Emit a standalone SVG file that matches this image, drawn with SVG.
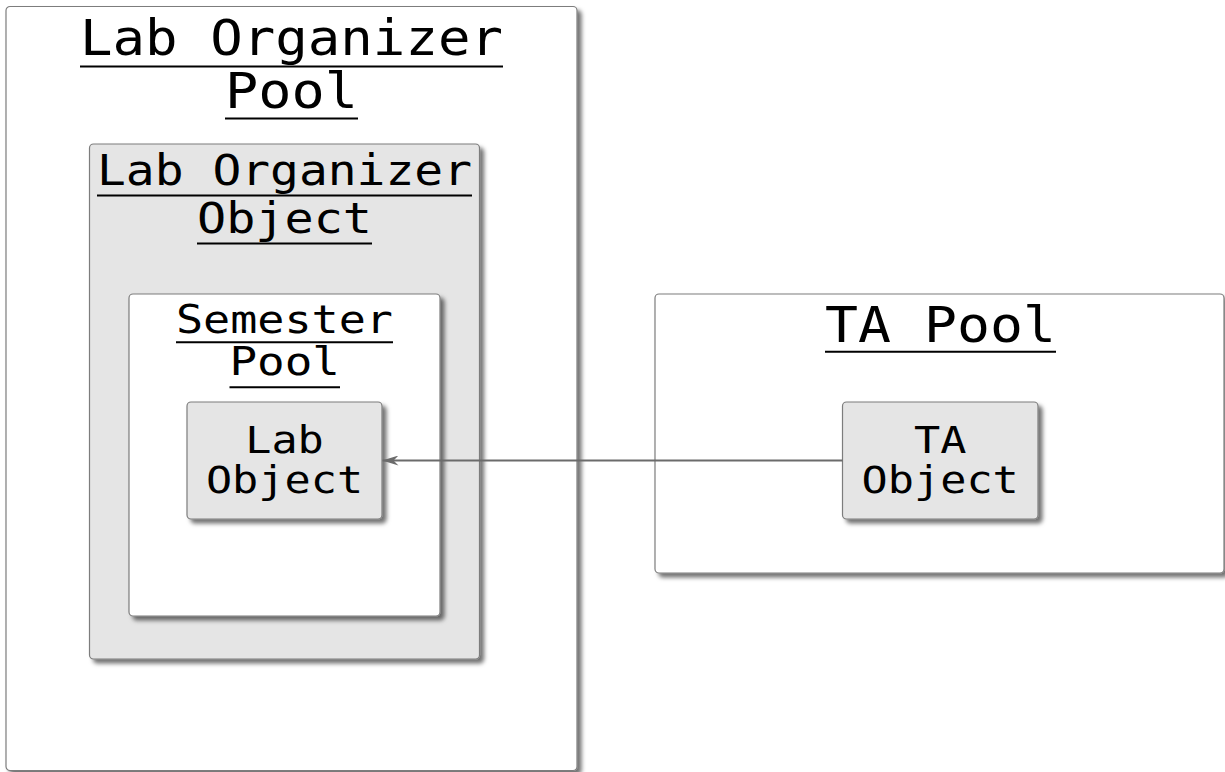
<svg xmlns="http://www.w3.org/2000/svg" width="1225" height="772" viewBox="0 0 1225 772">
  <style>
    .box { stroke: #7d7d7d; stroke-width: 1.2; filter: url(#shadow); }
    .pool { fill: #FFFFFF; }
    .obj { fill: #E5E5E5; }
    .label { font-family: "DejaVu Sans Mono", "Liberation Mono", monospace; fill: #000000; }
    .t50 { font-size: 49px; }
    .t44 { font-size: 43px; }
    .t39 { font-size: 39px; }
    .t36 { font-size: 37px; }
    .ul { stroke: #000000; stroke-width: 2; }
    .edge { stroke: #6b6b6b; stroke-width: 2; fill: none; }
  </style>
  <defs>
    <filter id="shadow" x="-5%" y="-5%" width="115%" height="115%">
      <feGaussianBlur in="SourceAlpha" stdDeviation="2" result="blur"/>
      <feColorMatrix in="blur" type="matrix" values="0 0 0 0 0  0 0 0 0 0  0 0 0 0 0  0 0 0 0.55 0" result="shade"/>
      <feOffset in="shade" dx="4" dy="4" result="moved"/>
      <feMerge>
        <feMergeNode in="moved"/>
        <feMergeNode in="SourceGraphic"/>
      </feMerge>
    </filter>
    <marker id="arrowhead" viewBox="0 0 16 10" refX="16" refY="5" markerWidth="16" markerHeight="10" markerUnits="userSpaceOnUse" orient="auto">
      <path d="M16,5 L0,0 L5,5 L0,10 Z" fill="#6b6b6b"/>
    </marker>
  </defs>

  <!-- Lab Organizer Pool -->
  <g id="lab-organizer-pool">
    <rect class="box pool" x="6" y="6.5" width="571" height="764" rx="4"/>
    <text class="label t50">
      <tspan x="80" y="55" textLength="423" lengthAdjust="spacingAndGlyphs">Lab Organizer</tspan>
      <tspan x="225" y="108" textLength="133" lengthAdjust="spacingAndGlyphs">Pool</tspan>
    </text>
    <line class="ul" x1="80" y1="66.5" x2="503" y2="66.5"/>
    <line class="ul" x1="225" y1="118.5" x2="358" y2="118.5"/>
  </g>

  <!-- Lab Organizer Object -->
  <g id="lab-organizer-object">
    <rect class="box obj" x="89.5" y="144" width="390" height="515" rx="4"/>
    <text class="label t44">
      <tspan x="97" y="185" textLength="375" lengthAdjust="spacingAndGlyphs">Lab Organizer</tspan>
      <tspan x="197" y="232.5" textLength="175" lengthAdjust="spacingAndGlyphs">Object</tspan>
    </text>
    <line class="ul" x1="97" y1="195.5" x2="472" y2="195.5"/>
    <line class="ul" x1="197" y1="243.5" x2="372" y2="243.5"/>
  </g>

  <!-- Semester Pool -->
  <g id="semester-pool">
    <rect class="box pool" x="129" y="294" width="311" height="322" rx="4"/>
    <text class="label t39">
      <tspan x="176" y="333.3" textLength="217" lengthAdjust="spacingAndGlyphs">Semester</tspan>
      <tspan x="229.5" y="375" textLength="110.5" lengthAdjust="spacingAndGlyphs">Pool</tspan>
    </text>
    <line class="ul" x1="176" y1="342.3" x2="393" y2="342.3"/>
    <line class="ul" x1="229.5" y1="387.3" x2="340" y2="387.3"/>
  </g>

  <!-- Lab Object -->
  <g id="lab-object">
    <rect class="box obj" x="187" y="402" width="195" height="117" rx="4"/>
    <text class="label t36">
      <tspan x="245.2" y="453.3" textLength="78.6" lengthAdjust="spacingAndGlyphs">Lab</tspan>
      <tspan x="205.9" y="493" textLength="157.2" lengthAdjust="spacingAndGlyphs">Object</tspan>
    </text>
  </g>

  <!-- TA Pool -->
  <g id="ta-pool">
    <rect class="box pool" x="655" y="294" width="569" height="279" rx="4"/>
    <text class="label t50" x="825" y="341.7" textLength="231" lengthAdjust="spacingAndGlyphs">TA Pool</text>
    <line class="ul" x1="825" y1="351.7" x2="1056" y2="351.7"/>
  </g>

  <!-- TA Object -->
  <g id="ta-object">
    <rect class="box obj" x="842.5" y="402" width="195.5" height="117" rx="4"/>
    <text class="label t36">
      <tspan x="914" y="453.3" textLength="52.4" lengthAdjust="spacingAndGlyphs">TA</tspan>
      <tspan x="861.6" y="493" textLength="157.2" lengthAdjust="spacingAndGlyphs">Object</tspan>
    </text>
  </g>

  <!-- Connectors -->
  <g id="connectors">
    <line class="edge" x1="842.5" y1="460.5" x2="382.5" y2="460.5" marker-end="url(#arrowhead)"/>
  </g>
</svg>
